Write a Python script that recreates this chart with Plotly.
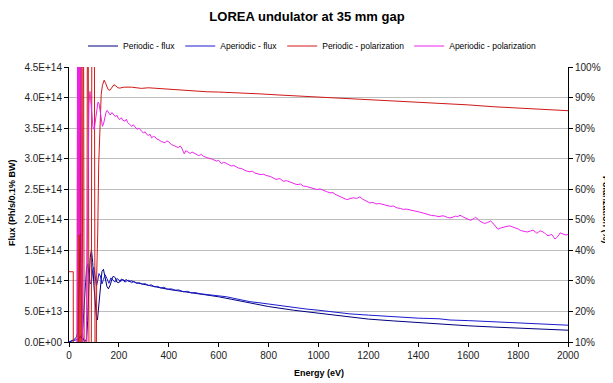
import plotly.graph_objects as go

# ---------------- data ----------------
x_ticks = [0, 200, 400, 600, 800, 1000, 1200, 1400, 1600, 1800, 2000]
flux_ticks = [0, 0.5, 1.0, 1.5, 2.0, 2.5, 3.0, 3.5, 4.0, 4.5]          # x 1e14
flux_labels = ["0.0E+00", "5.0E+13", "1.0E+14", "1.5E+14", "2.0E+14",
               "2.5E+14", "3.0E+14", "3.5E+14", "4.0E+14", "4.5E+14"]
pol_ticks = [10, 20, 30, 40, 50, 60, 70, 80, 90, 100]
pol_labels = ["10%", "20%", "30%", "40%", "50%", "60%", "70%", "80%", "90%", "100%"]

# Periodic - flux (units of 1e14 ph/s/0.1%BW)
pf_E = [0, 10, 20, 30, 35, 40, 45, 50, 55, 60,
        65, 70, 75, 80, 85, 90, 95, 100, 105, 110,
        114, 120, 126, 132, 138, 145, 152, 158, 165, 172,
        178, 185, 192, 200, 210, 220, 230, 240, 250, 270,
        300, 350, 400, 450, 500, 550, 600, 650, 700, 766,
        800, 900, 1000, 1126, 1200, 1300, 1400, 1500, 1600, 1700,
        1800, 1900, 2000]
pf_F = [0.0, 0.02, 0.04, 0.08, 0.15, 0.9, 1.78, 0.7, 0.08, 0.02,
        0.01, 0.05, 0.35, 0.95, 1.38, 1.51, 1.3, 0.92, 0.58, 0.4,
        0.36, 0.62, 0.96, 1.15, 1.19, 1.06, 0.91, 0.87, 0.93, 1.03,
        1.08, 1.05, 0.98, 0.97, 1.03, 1.0, 1.02, 0.99, 1.0, 0.97,
        0.94, 0.90, 0.86, 0.83, 0.80, 0.775, 0.74, 0.70, 0.66, 0.60,
        0.58, 0.52, 0.47, 0.40, 0.375, 0.345, 0.315, 0.29, 0.265, 0.245,
        0.225, 0.21, 0.193]

# Aperiodic - flux (units of 1e14)
af_E = [0, 10, 20, 30, 40, 45, 50, 55, 60, 65,
        70, 75, 80, 85, 90, 95, 100, 105, 110, 115,
        120, 126, 132, 138, 145, 152, 160, 168, 176, 184,
        192, 200, 208, 216, 224, 232, 240, 250, 260, 270,
        282, 294, 305, 318, 330, 342, 355, 368, 380, 395,
        410, 425, 440, 458, 475, 490, 505, 525, 545, 565,
        585, 605, 632, 660, 690, 725, 766, 800, 850, 900,
        950, 1000, 1050, 1126, 1200, 1300, 1400, 1483, 1527, 1600,
        1700, 1800, 1900, 2000]
af_F = [0.0, 0.01, 0.02, 0.03, 0.05, 0.1, 0.05, 0.2, 0.55, 0.95,
        1.2, 1.28, 1.15, 0.95, 0.98, 1.18, 1.22, 1.05, 0.92, 1.0,
        1.12, 1.08, 0.95, 1.02, 1.1, 1.04, 0.96, 1.05, 1.02, 0.98,
        1.04, 1.01, 0.99, 1.03, 0.98, 1.0, 1.01, 0.97, 0.99, 0.96,
        0.97, 0.945, 0.955, 0.925, 0.935, 0.905, 0.91, 0.885, 0.895, 0.865,
        0.87, 0.848, 0.852, 0.822, 0.83, 0.803, 0.808, 0.79, 0.782, 0.77,
        0.76, 0.755, 0.74, 0.715, 0.69, 0.66, 0.64, 0.62, 0.595, 0.565,
        0.54, 0.52, 0.495, 0.46, 0.44, 0.41, 0.39, 0.38, 0.36, 0.35,
        0.33, 0.31, 0.29, 0.275]

# Periodic - polarization (%)
pp_E = [0, 8, 17, 18, 32, 35, 38, 41, 44, 48,
        52, 57, 62, 70, 75, 82, 88, 93, 100, 106,
        111, 115, 119, 124, 129, 134, 141, 147, 152, 157,
        164, 172, 180, 188, 196, 204, 220, 251, 290, 318,
        350, 385, 420, 458, 500, 552, 600, 659, 725, 766,
        850, 950, 1050, 1126, 1200, 1300, 1400, 1483, 1527, 1600,
        1700, 1800, 1900, 2000]
pp_P = [33, 33, 33, -60, -60, 180, -60, 180, -60, 180,
        -60, 180, -60, -60, 180, -60, -60, 180, 180, -60,
        32, 45, 68, 84, 91, 94, 95.7, 94.6, 93.3, 92.6,
        92.4, 93.4, 94.2, 93.8, 93.2, 93.1, 93.4, 93.4, 93.0, 93.2,
        93.0, 92.8, 92.7, 92.5, 92.3, 91.9, 91.8, 91.5, 91.4, 91.2,
        90.8, 90.4, 90.0, 89.6, 89.3, 88.8, 88.4, 88.1, 87.9, 87.6,
        87.0, 86.5, 86.0, 85.7]

# Aperiodic - polarization (%)
ap_E = [0, 32, 36, 40, 45, 50, 56, 62, 68, 72,
        76, 80, 84, 88, 92, 96,
        101, 106, 111, 116, 120, 125, 130, 134, 138, 143,
        148, 153, 158, 165, 172, 178, 185, 192, 198, 204,
        210, 215, 224, 230, 235, 243, 251, 258, 265, 273,
        280, 291, 298, 305, 312, 318, 325, 331, 338, 345,
        352, 360, 370, 385, 392, 400, 410, 420, 430, 438,
        445, 450, 462, 468, 475, 486, 493, 500, 510, 520,
        530, 539, 550, 560, 575, 592, 600, 610, 620, 630,
        640, 650, 660, 672, 680, 690, 700, 710, 725, 735,
        745, 755, 766, 780, 790, 806, 818, 830, 845, 859,
        872, 885, 900, 913, 928, 940, 952, 965, 980, 993,
        1006, 1020, 1033, 1046, 1058, 1070, 1080, 1090, 1100, 1113,
        1126, 1140, 1153, 1166, 1176, 1185, 1196, 1206, 1218, 1230,
        1245, 1260, 1274, 1287, 1300, 1315, 1328, 1340, 1352, 1365,
        1380, 1393, 1406, 1420, 1436, 1453, 1468, 1483, 1495, 1505,
        1516, 1527, 1540, 1550, 1558, 1567, 1578, 1590, 1600, 1610,
        1620, 1630, 1640, 1647, 1656, 1665, 1678, 1690, 1698, 1705,
        1712, 1719, 1730, 1740, 1752, 1767, 1778, 1790, 1800, 1810,
        1822, 1836, 1848, 1860, 1868, 1875, 1882, 1888, 1897, 1905,
        1912, 1920, 1928, 1935, 1942, 1948, 1955, 1960, 1968, 1976,
        1985, 1992, 2000]
ap_P = [0, 0, 160, 45, 165, 50, 0, 0, 0, 30,
        70, 88, 92, 88, 84, 80.5,
        79.5, 83, 86.5, 88.5, 88.2, 85.5, 82, 80.6, 81.2, 83.5,
        85, 85.8, 85.2, 84.3, 85.1, 84.6, 83.8, 84.2, 83.1, 82.8,
        83.4, 82.6, 82.3, 82.9, 81.8, 81.2, 80.6, 81.1, 80.2, 79.6,
        80.0, 79.0, 78.4, 78.8, 77.9, 77.6, 78.0, 76.8, 77.3, 77.1,
        76.4, 76.2, 75.6, 75.2, 75.8, 75.5, 74.6, 74.3, 74.0, 73.6,
        74.2, 73.8, 71.6, 72.6, 72.3, 71.7, 72.2, 71.9, 71.3, 71.0,
        71.4, 70.8, 70.4, 70.2, 69.8, 69.2, 69.5, 68.4, 68.8, 68.5,
        67.9, 67.6, 67.8, 67.3, 66.9, 66.8, 66.4, 66.0, 65.7, 65.9,
        65.3, 65.1, 64.8, 64.9, 64.5, 64.2, 63.6, 63.2, 63.5, 62.6,
        62.8, 62.3, 61.9, 61.5, 61.7, 61.0, 60.9, 60.6, 60.4, 59.9,
        60.1, 59.5, 59.2, 58.8, 58.9, 58.2, 57.8, 57.6, 57.0, 56.6,
        56.9, 57.2, 57.0, 57.5, 56.8, 56.4, 56.0, 55.5, 55.7, 55.2,
        55.3, 54.9, 54.6, 54.4, 54.5, 53.9, 53.7, 53.4, 53.5, 53.2,
        53.0, 52.8, 52.5, 52.2, 51.8, 51.4, 51.3, 51.0, 51.3, 51.2,
        50.8, 50.6, 50.9, 51.2, 51.0, 51.5, 51.0, 50.6, 50.2, 49.8,
        50.3, 50.8, 50.1, 49.5, 49.2, 48.8, 49.1, 49.6, 49.0, 48.2,
        47.5, 46.9, 47.3, 47.6, 47.8, 48.0, 47.7, 47.3, 47.0, 46.5,
        46.3, 46.0, 46.3, 46.6, 46.1, 45.6, 46.0, 46.4, 46.1, 45.8,
        45.2, 44.8, 45.0, 45.2, 44.4, 43.7, 44.2, 44.6, 45.7, 45.5,
        45.2, 45.0, 45.2]

series_names = ["Periodic - flux", "Aperiodic - flux",
                "Periodic - polarization", "Aperiodic - polarization"]
series_colors = ["#000080", "#1a1ad0", "#d01818", "#ee22ee"]

FONT = "Arial, 'Liberation Sans', sans-serif"

# The page puts the figure 8 px in from the top-left corner, so the figure is
# sized 8 px smaller to keep the same layout inside the 613x383 window.
W, H = 605, 375
L, T = 61, 59
PW, PH = 499, 275

fig = go.Figure()
fig.add_trace(go.Scatter(x=pf_E, y=pf_F, mode="lines", name=series_names[0],
                         line=dict(color=series_colors[0], width=1), yaxis="y"))
fig.add_trace(go.Scatter(x=af_E, y=af_F, mode="lines", name=series_names[1],
                         line=dict(color=series_colors[1], width=1), yaxis="y"))
fig.add_trace(go.Scatter(x=pp_E, y=pp_P, mode="lines", name=series_names[2],
                         line=dict(color=series_colors[2], width=1), yaxis="y2"))
fig.add_trace(go.Scatter(x=ap_E, y=ap_P, mode="lines", name=series_names[3],
                         line=dict(color=series_colors[3], width=1), yaxis="y2"))

fig.update_layout(
    width=W, height=H,
    margin=dict(l=L, r=W - L - PW, t=T, b=H - T - PH, pad=0),
    paper_bgcolor="white", plot_bgcolor="white",
    font=dict(family=FONT, size=10, color="#000000"),
    title=dict(text="<b>LOREA undulator at 35 mm gap</b>", x=(307 - 8) / W, xanchor="center",
               y=1 - 8 / H, yref="container", yanchor="middle",
               font=dict(family=FONT, size=13, color="#000000")),
    showlegend=True,
    legend=dict(orientation="h", x=(312 - 8 - L) / PW, xanchor="center",
                y=1 + 21 / PH, yanchor="middle",
                font=dict(family=FONT, size=8.5, color="#000000"),
                itemwidth=30, bgcolor="rgba(0,0,0,0)", tracegroupgap=0),
    xaxis=dict(range=[0, 2000], tickvals=x_ticks, ticktext=[str(v) for v in x_ticks],
               ticks="outside", ticklen=4, tickcolor="#000000",
               showline=True, linecolor="#000000", linewidth=1,
               showgrid=False, zeroline=False,
               tickfont=dict(family=FONT, size=10, color="#222222")),
    yaxis=dict(range=[0, 4.5], tickvals=flux_ticks, ticktext=flux_labels,
               ticks="outside", ticklen=4, tickcolor="#000000",
               showline=True, linecolor="#000000", linewidth=1,
               showgrid=True, gridcolor="#BDBDBD", gridwidth=1, zeroline=False,
               tickfont=dict(family=FONT, size=10, color="#222222")),
    yaxis2=dict(range=[10, 100], overlaying="y", side="right",
                tickvals=pol_ticks, ticktext=pol_labels,
                ticks="outside", ticklen=4, tickcolor="#000000",
                showline=True, linecolor="#000000", linewidth=1,
                showgrid=False, zeroline=False,
                tickfont=dict(family=FONT, size=10, color="#222222")),
    annotations=[
        dict(text="<b>Energy (eV)</b>", xref="paper", yref="paper",
             x=0.5, y=-31 / PH, xanchor="center", yanchor="middle",
             showarrow=False, font=dict(family=FONT, size=9, color="#000000")),
        dict(text="<b>Flux (Ph/s/0.1% BW)</b>", xref="paper", yref="paper",
             x=(12 - 8 - L) / PW, y=(342 - 203) / PH, xanchor="center", yanchor="middle",
             textangle=-90, showarrow=False,
             font=dict(family=FONT, size=9, color="#000000")),
        dict(text="<b>Polarization (%)</b>", xref="paper", yref="paper",
             x=(606 - 8 - L) / PW, y=(342 - 210) / PH, xanchor="center", yanchor="middle",
             textangle=90, showarrow=False,
             font=dict(family=FONT, size=9, color="#000000")),
    ],
)

fig.write_html("out.html")
